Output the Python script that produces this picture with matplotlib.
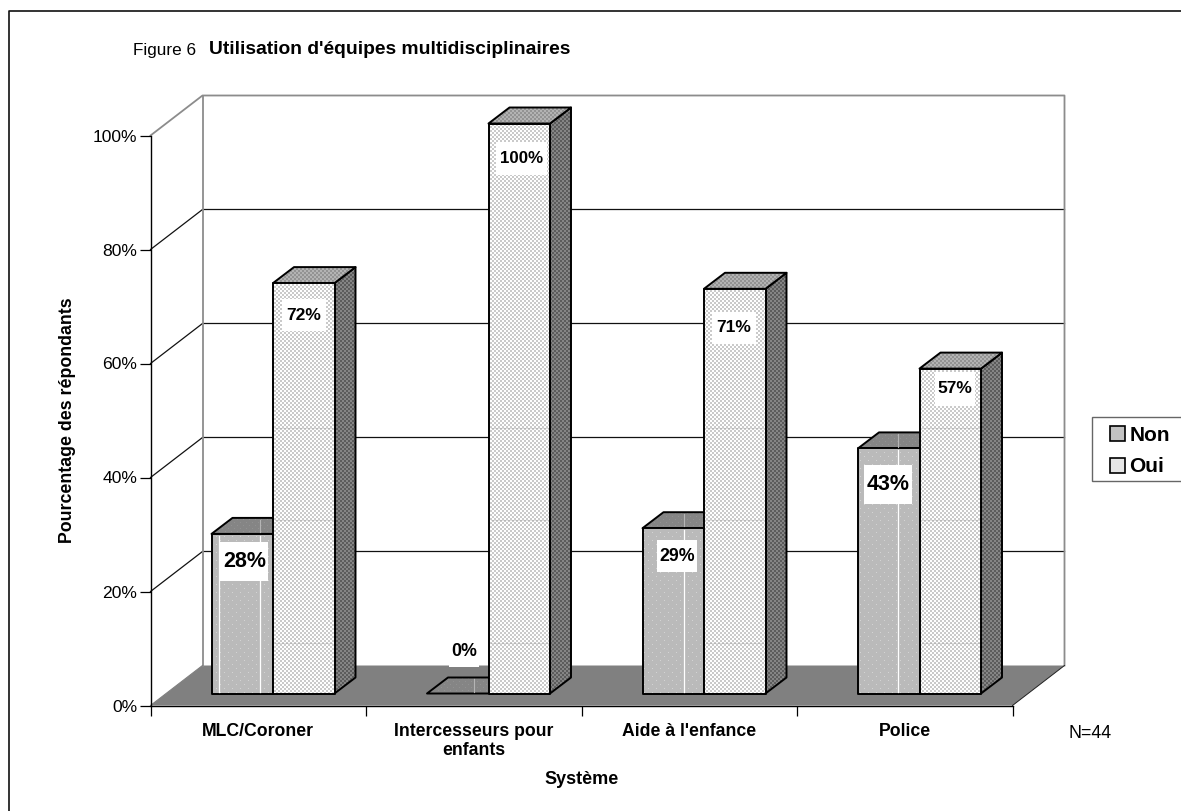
import numpy as np
import matplotlib
matplotlib.use("Agg")
import matplotlib.pyplot as plt
from matplotlib.lines import Line2D
from matplotlib.patches import Patch, Polygon, Rectangle

plt.rcParams["font.family"] = ["Liberation Sans", "DejaVu Sans"]

# Survey results (percent of respondents)
systems = ["MLC/Coroner", "Intercesseurs pour\nenfants", "Aide à l'enfance", "Police"]
series_names = ["Non", "Oui"]
non_values = [28, 0, 29, 43]
oui_values = [72, 100, 71, 57]
y_ticks = [0, 20, 40, 60, 80, 100]

# Value label layout: font size, centre offset from box centre and top (px), plate size (px)
non_label_style = [(15.5, 2, 28, 48, 39), (12.8, 6, -42, 30, 30), (12.8, 4, 28, 40, 32), (15.5, -1, 36.5, 48, 39)]
oui_label_style = [(12.5, 0, 32, 44, 32), (12.2, 2, 35, 51, 33), (12.5, -1, 39, 44, 32), (12.5, 4.5, 20, 40, 34)]

W, H, DPI = 1181, 811, 100
fig = plt.figure(figsize=(W / DPI, H / DPI), dpi=DPI, facecolor="white")

# Front plane of the oblique chart: four categories wide, 0-100 % tall
LEFT, RIGHT, BOTTOM, TOP = 150.5, 1012.5, 705.5, 135.5
ax = fig.add_axes([LEFT / W, 1 - BOTTOM / H, (RIGHT - LEFT) / W, (BOTTOM - TOP) / H])
ax.set_xlim(0, len(systems))
ax.set_ylim(0, 100)
ax.patch.set_visible(False)
px_x = (RIGHT - LEFT) / len(systems)
px_y = (BOTTOM - TOP) / 100

# Depth vectors in data units
WALL_DX, WALL_DY = 52 / px_x, 40 / px_y
BAR_DX, BAR_DY = 21 / px_x, 16 / px_y
BAR_FRONT_Y = 12 / px_y
BAR_START = 61 / px_x
BAR_W = 61.5 / px_x


def stipple(base, dot, period=None):
    """Repeating texture as a grey image the size of the figure: sparse dots or a fine checker."""
    img = np.full((H, W), base, dtype=float)
    yy, xx = np.mgrid[0:H, 0:W]
    if period is None:
        mask = (xx // 2 + yy // 2) % 2 == 0
    else:
        mask = ((xx % period == 0) & (yy % period == 0)) | (
            ((xx + period // 2) % period == 0) & ((yy + period // 2) % period == 0)
        )
    img[mask] = dot
    return img


TEX = {
    "non_front": stipple(0.73, 0.83, 8),
    "non_top": stipple(0.52, 0.57, 6),
    "non_side": stipple(0.46, 0.36),
    "oui_front": stipple(1.0, 0.79),
    "oui_top": stipple(0.70, 0.58),
    "oui_side": stipple(0.52, 0.36),
}


def face(pts, texture, z):
    """Fill a polygon with a texture and outline it in black."""
    outline = Polygon(pts, closed=True, fill=False, edgecolor="black", lw=1.4,
                      joinstyle="round", zorder=z + 0.1, clip_on=False)
    ax.add_patch(outline)
    im = ax.imshow(TEX[texture], cmap="gray", vmin=0, vmax=1, interpolation="nearest",
                   extent=(-LEFT / px_x, (W - LEFT) / px_x, (BOTTOM - H) / px_y, BOTTOM / px_y),
                   aspect="auto", zorder=z)
    im.set_clip_box(fig.bbox)
    im.set_clip_path(outline)


# Back wall, side edge and floor
floor = [(0, 0), (WALL_DX, WALL_DY), (4 + WALL_DX, WALL_DY), (4, 0)]
ax.add_patch(Polygon(floor, closed=True, facecolor="#808080", edgecolor="none", zorder=1, clip_on=False))
for v in y_ticks[1:-1]:
    ax.plot([0, WALL_DX, 4 + WALL_DX], [v, v + WALL_DY, v + WALL_DY], color="#111111", lw=0.9,
            zorder=1.2, clip_on=False)
ax.plot([0, WALL_DX, 4 + WALL_DX, 4 + WALL_DX], [100, 100 + WALL_DY, 100 + WALL_DY, WALL_DY],
        color="#8c8c8c", lw=1.3, zorder=1.2, clip_on=False)
ax.plot([WALL_DX, WALL_DX], [WALL_DY, 100 + WALL_DY], color="#8c8c8c", lw=1.3, zorder=1.2, clip_on=False)
ax.plot([0, WALL_DX], [0, WALL_DY], color="#808080", lw=0.8, zorder=1.2, clip_on=False)
ax.plot([4, 4 + WALL_DX], [0, WALL_DY], color="#222222", lw=0.7, zorder=1.2, clip_on=False)


def bar(x0, value, prefix, z):
    y0 = BAR_FRONT_Y
    y1 = y0 + value
    x1 = x0 + BAR_W
    if value > 0:
        face([(x1, y0), (x1 + BAR_DX, y0 + BAR_DY), (x1 + BAR_DX, y1 + BAR_DY), (x1, y1)],
             prefix + "_side", z)
    face([(x0, y1), (x0 + BAR_DX, y1 + BAR_DY), (x1 + BAR_DX, y1 + BAR_DY), (x1, y1)],
         prefix + "_top", z + 0.2)
    if value > 0:
        face([(x0, y0), (x1, y0), (x1, y1), (x0, y1)], prefix + "_front", z + 0.4)


# Thin pale seams down the "Non" boxes, as px offsets from the box edge
non_seams = [[7.5, 48], [47], [41], [40]]
# Faint rows running across the "Oui" fronts
oui_rows = [8.8, 30.4, 46.5]

z = 2.0
for i, (n, o) in enumerate(zip(non_values, oui_values)):
    x_non = i + BAR_START
    x_oui = x_non + BAR_W
    bar(x_non, n, "non", z)
    for off_px in non_seams[i]:
        xs = x_non + off_px / px_x
        if n > 0:
            ax.plot([xs, xs], [BAR_FRONT_Y + 0.3, BAR_FRONT_Y + n - 0.3], color="white",
                    lw=0.9, zorder=z + 0.6, clip_on=False)
        if off_px > 21:  # only seams that lie under the top face continue onto it
            ax.plot([xs, xs], [BAR_FRONT_Y + n + 0.3, BAR_FRONT_Y + n + BAR_DY - 0.3],
                    color="#b5b5b5", lw=0.8, zorder=z + 0.6, clip_on=False)
    bar(x_oui, o, "oui", z + 1)
    for r in oui_rows:
        if r < o:
            ax.plot([x_oui + 0.01, x_oui + BAR_W - 0.01], [BAR_FRONT_Y + r] * 2, color="#777777",
                    lw=0.8, alpha=0.22, zorder=z + 1.6, clip_on=False)
    z += 2


def value_label(x_center, value, style):
    """Bold value on a white plate, positioned relative to the box top."""
    size, dx, dy, w, h = style
    cx = x_center + dx / px_x
    cy = BAR_FRONT_Y + value - dy / px_y
    ax.add_patch(Rectangle((cx - w / 2 / px_x, cy - h / 2 / px_y), w / px_x, h / px_y, facecolor="white",
                           edgecolor="none", zorder=30, clip_on=False))
    ax.text(cx, cy, f"{value}%", ha="center", va="center", fontsize=size, fontweight="bold", zorder=31)


for i, (n, o) in enumerate(zip(non_values, oui_values)):
    x_non = i + BAR_START
    value_label(x_non + BAR_W / 2, n, non_label_style[i])
    value_label(x_non + BAR_W * 1.5, o, oui_label_style[i])

# Axes and ticks
for side in ("top", "right"):
    ax.spines[side].set_visible(False)
for side in ("left", "bottom"):
    ax.spines[side].set_linewidth(1.0)
    ax.spines[side].set_zorder(1.5)
ax.set_xticks(range(len(systems) + 1))
ax.set_xticklabels([])
ax.set_yticks(y_ticks)
ax.set_yticklabels([f"{v}%" for v in y_ticks], fontsize=12.6)
ax.tick_params(axis="x", length=7.2, width=0.9, direction="out")
ax.tick_params(axis="y", length=8, width=0.9, direction="out", pad=1.5)
for i, name in enumerate(systems):
    ax.text(i + 0.5, -17 / px_y, name, ha="center", va="top", fontsize=12.7, fontweight="bold",
            linespacing=1.22)

fig.text(582 / W, 1 - 780 / H, "Système", ha="center", va="center", fontsize=13, fontweight="bold")
fig.text(68 / W, 1 - 420 / H, "Pourcentage des répondants", rotation=90, ha="center", va="center",
         fontsize=12.8, fontweight="bold")
fig.text(133 / W, 1 - 50 / H, "Figure 6", ha="left", va="center", fontsize=12.3)
fig.text(209 / W, 1 - 50 / H, "Utilisation d'équipes multidisciplinaires", ha="left", va="center",
         fontsize=13.9, fontweight="bold")
fig.text(1068 / W, 1 - 733 / H, "N=44", ha="left", va="center", fontsize=12.8)

# Outer frame: only the top and left edges fall within the canvas
fig.add_artist(Line2D([8.5 / W, 8.5 / W, 1], [0, 1 - 10.5 / H, 1 - 10.5 / H], color="#111111", lw=1.2))

# Legend box runs past the right edge of the canvas
fig.add_artist(Rectangle((1091.5 / W, 1 - 481 / H), 100 / W, 64 / H, transform=fig.transFigure,
                         facecolor="white", edgecolor="#666666", lw=1.0, zorder=5))
handles = [Patch(facecolor="#c2c2c2", edgecolor="black", lw=1.2, label=series_names[0]),
           Patch(facecolor="#e6e6e6", edgecolor="black", lw=1.2, label=series_names[1])]
legend = fig.legend(handles=handles, loc="upper left", bbox_to_anchor=(1110 / W, 1 - 426 / H),
                    borderaxespad=0, frameon=False, handlelength=0.72, handleheight=0.72,
                    handletextpad=0.2, labelspacing=0.6, borderpad=0,
                    prop={"size": 15, "weight": "bold"})
legend.set_zorder(6)

ax.set_xlim(0, len(systems))
ax.set_ylim(0, 100)
fig.savefig("out.png", dpi=DPI)
